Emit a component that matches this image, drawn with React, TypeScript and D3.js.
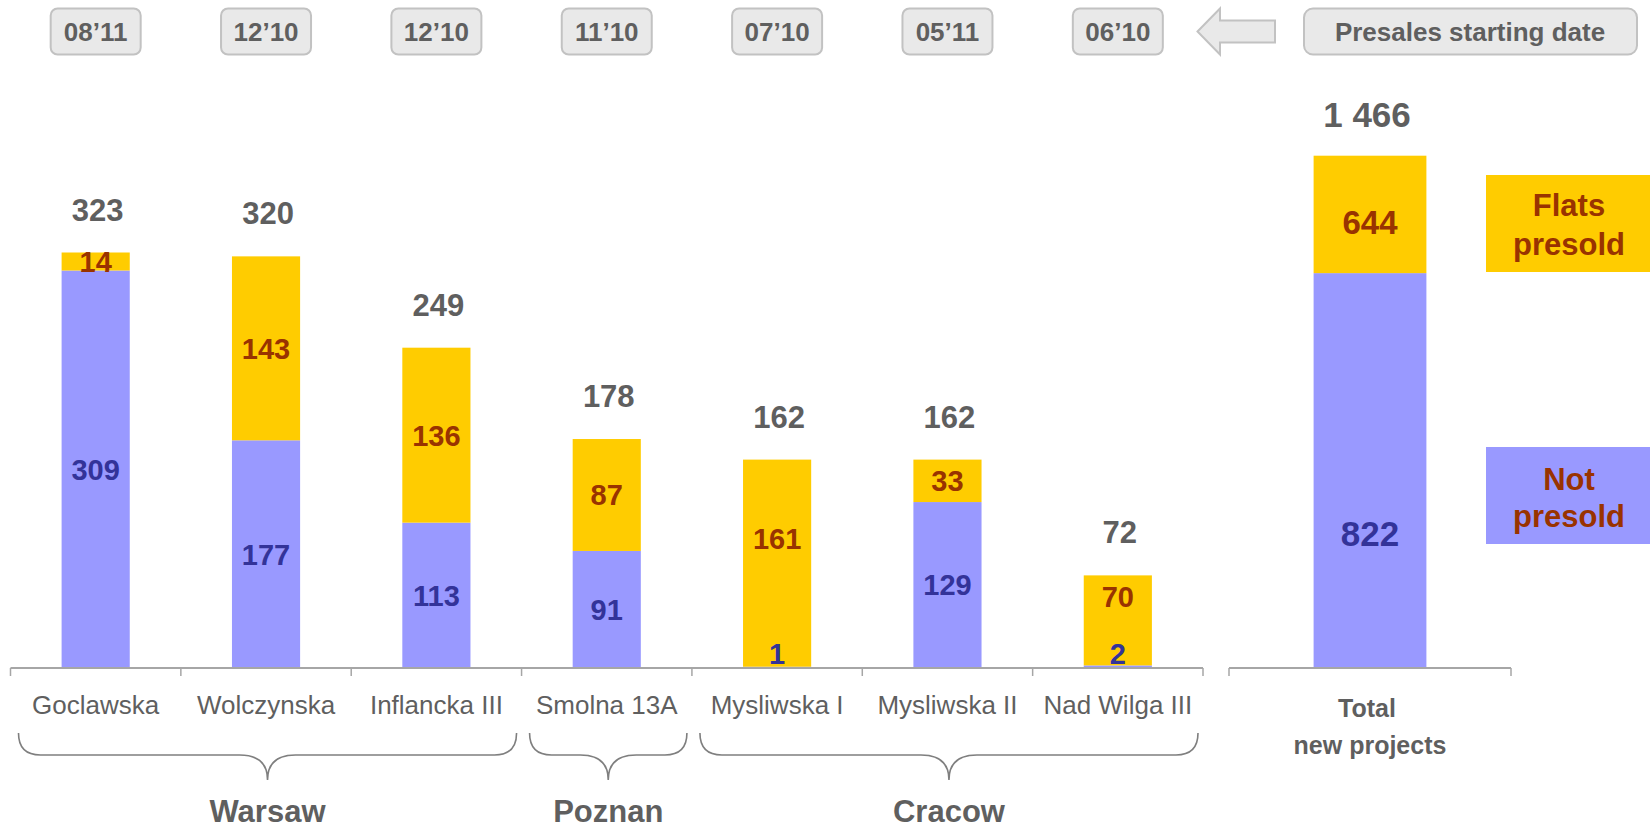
import React, { useMemo } from "react";
import { scaleBand, scaleLinear, scalePow } from "d3";

// projects, left to right
const categories = ["Goclawska", "Wolczynska", "Inflancka III", "Smolna 13A", "Mysliwska I", "Mysliwska II", "Nad Wilga III"];
const notPresold = [309, 177, 113, 91, 1, 129, 2];
const presold = [14, 143, 136, 87, 161, 33, 70];
const totals = [323, 320, 249, 178, 162, 162, 72];
const presaleDates = ["08’11", "12’10", "12’10", "11’10", "07’10", "05’11", "06’10"];

const cities = ["Warsaw", "Poznan", "Cracow"];
const cityFirst = [0, 3, 4];
const cityLast = [2, 3, 6];

const totalLabel = ["Total", "new projects"];
const totalNotPresold = 822;
const totalPresold = 644;
const grandTotal = 1466;
const grandTotalText = "1 466";

const legendLabels = [["Flats", "presold"], ["Not", "presold"]];
const presalesCaption = "Presales starting date";

const YELLOW = "#FFCC00";
const BLUE = "#9999FF";
const DARK_RED = "#993300";
const DARK_BLUE = "#333399";
const GREY_TEXT = "#5f5f5f";
const AXIS = "#a6a6a6";
const FONT = "'Liberation Sans', Arial, sans-serif";

const W = 1650;
const H = 829;
const baseline = 668;

function brace(x1: number, x2: number, y0: number, y1: number, y2: number) {
	const xm = (x1 + x2) / 2;
	const r = 22;
	const r2 = 28;
	return `M${x1},${y0} Q${x1},${y1} ${x1 + r},${y1} L${xm - r2},${y1} Q${xm},${y1} ${xm},${y2} Q${xm},${y1} ${xm + r2},${y1} L${x2 - r},${y1} Q${x2},${y1} ${x2},${y0}`;
}

export default function App() {
	const x = useMemo(
		() => scaleBand<string>().domain(categories).range([10.5, 1203]).paddingInner(0.6).paddingOuter(0.3),
		[]
	);
	const step = x.step();
	const bandStart = (i: number) => x(categories[i])! - x.paddingOuter() * step;

	const y = useMemo(() => scaleLinear().domain([0, 323]).range([baseline, 252.5]), []);

	// total bar is not drawn to scale in the original, compressed scale
	const totalAxis = [1229, 1511];
	const xt = useMemo(
		() => scaleBand<string>().domain(["total"]).range(totalAxis).paddingInner(0).paddingOuter(0.75),
		[]
	);
	const yt = useMemo(() => scalePow().exponent(0.45).domain([0, grandTotal]).range([0, baseline - 155.7]), []);

	const bw = x.bandwidth();

	return (
		<div style={{ position: "fixed", left: 0, top: 0, width: W, height: H, background: "#fff" }}>
			<svg width={W} height={H} style={{ display: "block" }} fontFamily={FONT}>
				{/* presale date boxes */}
				{presaleDates.map((d, i) => {
					const cx = x(categories[i])! + bw / 2;
					return (
						<g key={`d-${i}`}>
							<rect x={cx - 45} y={8.5} width={90} height={46} rx={7} fill="#e9e9e9" stroke="#c2c2c2" strokeWidth={2} />
							<text x={cx} y={41} textAnchor="middle" fontSize={26} fontWeight="bold" fill={GREY_TEXT}>{d}</text>
						</g>
					);
				})}
				{/* arrow */}
				<path
					d="M1197.5,31.5 L1220,8.5 L1220,20.5 L1275,20.5 L1275,42.5 L1220,42.5 L1220,54.5 Z"
					fill="#e9e9e9"
					stroke="#c2c2c2"
					strokeWidth={2}
				/>
				<rect x={1304} y={8.5} width={333} height={46} rx={9} fill="#e9e9e9" stroke="#c2c2c2" strokeWidth={2} />
				<text x={1470} y={41} textAnchor="middle" fontSize={26} fontWeight="bold" fill={GREY_TEXT}>{presalesCaption}</text>

				{/* bars */}
				{categories.map((c, i) => {
					const x0 = x(c)!;
					const cx = x0 + bw / 2;
					const yBlue = y(notPresold[i]);
					const yTop = y(totals[i]);
					const blueH = baseline - yBlue;
					const blueLabelY = blueH < 30 ? baseline - 14 : (yBlue + baseline) / 2;
					const yellowLabelY = blueH < 30 ? (yTop + baseline - 50) / 2 : (yTop + yBlue) / 2;
					return (
						<g key={c}>
							<rect x={x0} y={yBlue} width={bw} height={blueH} fill={BLUE} />
							<rect x={x0} y={yTop} width={bw} height={yBlue - yTop} fill={YELLOW} />
							<text x={cx} y={yellowLabelY} dy="0.36em" textAnchor="middle" fontSize={29} fontWeight="bold" fill={DARK_RED}>{presold[i]}</text>
							<text x={cx} y={blueLabelY} dy="0.36em" textAnchor="middle" fontSize={29} fontWeight="bold" fill={DARK_BLUE}>{notPresold[i]}</text>
							<text x={cx + 2} y={yTop - 32} textAnchor="middle" fontSize={31} fontWeight="bold" fill={GREY_TEXT}>{totals[i]}</text>
							<text x={cx} y={714} textAnchor="middle" fontSize={26} fill={GREY_TEXT}>{c}</text>
						</g>
					);
				})}

				{/* axis */}
				<line x1={10.5} x2={1203} y1={baseline} y2={baseline} stroke={AXIS} strokeWidth={2} />
				{categories.map((c, i) => (
					<line key={`t-${c}`} x1={bandStart(i)} x2={bandStart(i)} y1={baseline} y2={baseline + 8} stroke={AXIS} strokeWidth={1.5} />
				))}
				<line x1={1203} x2={1203} y1={baseline} y2={baseline + 8} stroke={AXIS} strokeWidth={1.5} />

				{/* city braces */}
				{cities.map((city, k) => {
					const x1 = bandStart(cityFirst[k]) + 8;
					const x2 = bandStart(cityLast[k]) + step - 5;
					return (
						<g key={city}>
							<path d={brace(x1, x2, 733, 755, 780)} fill="none" stroke="#7f7f7f" strokeWidth={1.6} />
							<text x={(x1 + x2) / 2} y={822} textAnchor="middle" fontSize={31} fontWeight="bold" fill={GREY_TEXT}>{city}</text>
						</g>
					);
				})}

				{/* total panel */}
				{(() => {
					const bx = xt("total")!;
					const tw = xt.bandwidth();
					const cx = bx + tw / 2;
					const yBlue = baseline - yt(totalNotPresold);
					const yTop = baseline - yt(grandTotal);
					return (
						<g>
							<rect x={bx} y={yBlue} width={tw} height={baseline - yBlue} fill={BLUE} />
							<rect x={bx} y={yTop} width={tw} height={yBlue - yTop} fill={YELLOW} />
							<text x={cx} y={(yTop + yBlue) / 2 + 8} dy="0.36em" textAnchor="middle" fontSize={33} fontWeight="bold" fill={DARK_RED}>{totalPresold}</text>
							<text x={cx} y={baseline - (baseline - yBlue) * 0.34} dy="0.36em" textAnchor="middle" fontSize={35} fontWeight="bold" fill={DARK_BLUE}>{totalNotPresold}</text>
							<text x={cx - 3} y={yTop - 29} textAnchor="middle" fontSize={35} fontWeight="bold" fill={GREY_TEXT}>{grandTotalText}</text>
							<line x1={totalAxis[0]} x2={totalAxis[1]} y1={baseline} y2={baseline} stroke={AXIS} strokeWidth={2} />
							<line x1={totalAxis[0]} x2={totalAxis[0]} y1={baseline} y2={baseline + 8} stroke={AXIS} strokeWidth={1.5} />
							<line x1={totalAxis[1]} x2={totalAxis[1]} y1={baseline} y2={baseline + 8} stroke={AXIS} strokeWidth={1.5} />
							<text x={cx - 3} y={717} textAnchor="middle" fontSize={25} fontWeight="bold" fill={GREY_TEXT}>{totalLabel[0]}</text>
							<text x={cx} y={754} textAnchor="middle" fontSize={25} fontWeight="bold" fill={GREY_TEXT}>{totalLabel[1]}</text>
						</g>
					);
				})()}

				{/* legend */}
				<rect x={1486} y={175} width={164} height={97} fill={YELLOW} />
				<text x={1569} y={216} textAnchor="middle" fontSize={31} fontWeight="bold" fill={DARK_RED}>{legendLabels[0][0]}</text>
				<text x={1569} y={255} textAnchor="middle" fontSize={31} fontWeight="bold" fill={DARK_RED}>{legendLabels[0][1]}</text>
				<rect x={1486} y={447} width={164} height={97} fill={BLUE} />
				<text x={1569} y={490} textAnchor="middle" fontSize={31} fontWeight="bold" fill={DARK_RED}>{legendLabels[1][0]}</text>
				<text x={1569} y={527} textAnchor="middle" fontSize={31} fontWeight="bold" fill={DARK_RED}>{legendLabels[1][1]}</text>
			</svg>
		</div>
	);
}
